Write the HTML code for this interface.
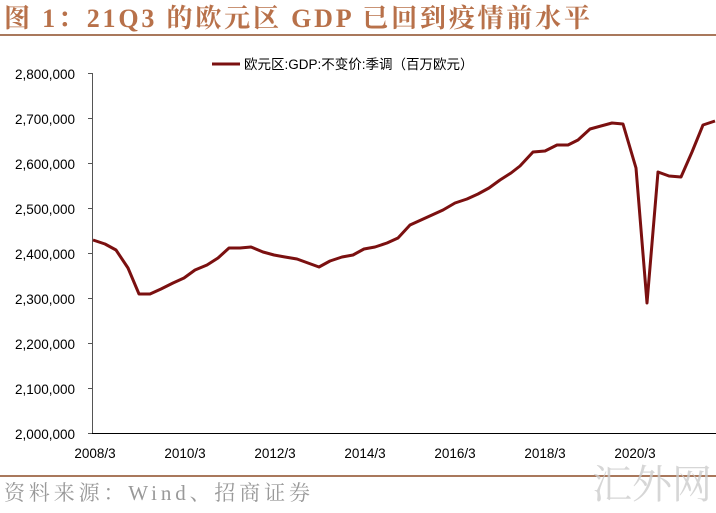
<!DOCTYPE html>
<html><head><meta charset="utf-8"><style>
body{margin:0;background:#fff;width:716px;height:508px;overflow:hidden;}
</style></head><body>
<svg width="716" height="508" viewBox="0 0 716 508" xmlns="http://www.w3.org/2000/svg">
<text x="4" y="27" font-family="Liberation Serif, Noto Serif CJK SC, serif" font-weight="bold" font-size="26" fill="#b8714a" textLength="586" lengthAdjust="spacing">图 1：21Q3 的欧元区 GDP 已回到疫情前水平</text>
<rect x="0" y="34" width="716" height="2" fill="#a9785c"/>
<g font-family="Liberation Sans, Noto Sans CJK SC, sans-serif" font-size="13.5" fill="#000" text-anchor="end">
<text x="75" y="79">2,800,000</text>
<text x="75" y="124">2,700,000</text>
<text x="75" y="169">2,600,000</text>
<text x="75" y="214">2,500,000</text>
<text x="75" y="259">2,400,000</text>
<text x="75" y="304">2,300,000</text>
<text x="75" y="349">2,200,000</text>
<text x="75" y="394">2,100,000</text>
<text x="75" y="439">2,000,000</text>
</g>
<g stroke="#555" stroke-width="1">
<line x1="92.5" y1="73" x2="92.5" y2="433"/>
<line x1="88" y1="73.5" x2="92" y2="73.5"/><line x1="88" y1="118.5" x2="92" y2="118.5"/>
<line x1="88" y1="163.5" x2="92" y2="163.5"/><line x1="88" y1="208.5" x2="92" y2="208.5"/>
<line x1="88" y1="253.5" x2="92" y2="253.5"/><line x1="88" y1="298.5" x2="92" y2="298.5"/>
<line x1="88" y1="343.5" x2="92" y2="343.5"/><line x1="88" y1="388.5" x2="92" y2="388.5"/>
<line x1="88" y1="433.5" x2="92" y2="433.5"/>
</g>
<line x1="92" y1="433.5" x2="716" y2="433.5" stroke="#000" stroke-width="1"/>
<g font-family="Liberation Sans, sans-serif" font-size="13.5" fill="#000" text-anchor="middle">
<text x="95" y="458">2008/3</text><text x="185" y="458">2010/3</text><text x="275" y="458">2012/3</text>
<text x="365" y="458">2014/3</text><text x="455" y="458">2016/3</text><text x="545" y="458">2018/3</text>
<text x="635" y="458">2020/3</text>
</g>
<line x1="212" y1="64" x2="240" y2="64" stroke="#7b1010" stroke-width="3"/>
<text x="244" y="69" font-family="Liberation Sans, Noto Sans CJK SC, sans-serif" font-size="13.5" fill="#000">欧元区:GDP:不变价:季调（百万欧元）</text>
<polyline fill="none" stroke="#7b1010" stroke-width="3" stroke-linejoin="round" points="93,240 105,244 116,250 128,268 139,294 150,294 161,289 173,283 184,278 195,270 207,265 218,258 229,248 240,248 251,247 263,252 274,255 285,257 297,259 308,263 319,267 330,261 342,257 353,255 364,249 375,247 387,243 398,238 410,225 421,220 432,215 443,210 455,203 467,199 478,194 489,188 500,180 511,173 520,166 533,152 545,151 557,145 568,145 578,140 590,129 612,123 623,124 636,168 647,303 658,172 669,176 681,177 692,152 703,125 715,121"/>
<rect x="0" y="475" width="716" height="2" fill="#a9785c"/>
<text x="4" y="500" font-family="Liberation Serif, Noto Serif CJK SC, serif" font-size="21" fill="#999" textLength="306" lengthAdjust="spacing">资料来源：Wind、招商证券</text>
<text x="592" y="498" font-family="Liberation Serif, Noto Serif CJK SC, serif" font-size="40" fill="#ccc" opacity="0.8">汇外网</text>
</svg>
</body></html>
